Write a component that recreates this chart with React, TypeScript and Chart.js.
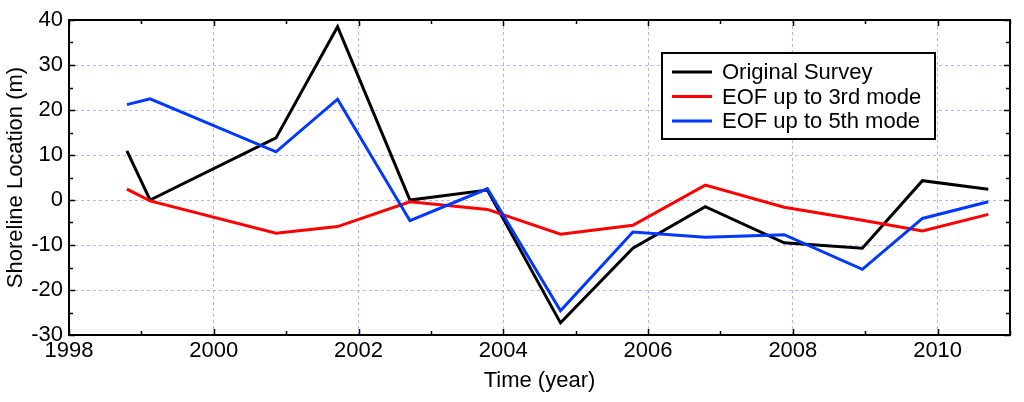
import React, { useEffect, useRef } from "react";
import { Chart, registerables } from "chart.js";

Chart.register(...registerables);

const years = [1998.8, 1999.12, 2000.86, 2001.71, 2002.71, 2003.78, 2004.79, 2005.79, 2006.79, 2007.88, 2008.96, 2009.79, 2010.7];
const originalSurvey = [10.9, 0, 13.8, 38.5, 0, 2.2, -27.3, -10.7, -1.5, -9.5, -10.7, 4.3, 2.4];
const eofMode3 = [2.4, -0.2, -7.4, -5.9, -0.4, -2.1, -7.6, -5.6, 3.3, -1.6, -4.5, -6.9, -3.2];
const eofMode5 = [21.2, 22.5, 10.7, 22.4, -4.6, 2.5, -24.6, -7.1, -8.3, -7.7, -15.4, -4.1, -0.4];
const seriesLabels = ["Original Survey", "EOF up to 3rd mode", "EOF up to 5th mode"];
const seriesColors = ["#000000", "#ff0000", "#0038ff"];
const xTitle = "Time (year)";
const yTitle = "Shoreline Location (m)";

const FONT = "'Liberation Sans', Arial, sans-serif";
const GRID = "rgba(170,170,255,0.9)";

const framePlugin = {
  id: "frame",
  afterDraw(chart: any) {
    const { ctx, chartArea, scales } = chart;
    const { left, right, top, bottom } = chartArea;
    const xs = scales.x;
    const ys = scales.y;
    ctx.save();
    ctx.strokeStyle = "#000";
    ctx.lineWidth = 1.5;
    for (let v = 1998; v <= 2011; v++) {
      const px = Math.round(xs.getPixelForValue(v)) + 0.5;
      const len = v % 2 === 0 ? 6 : 4;
      ctx.beginPath();
      ctx.moveTo(px, bottom);
      ctx.lineTo(px, bottom - len);
      ctx.moveTo(px, top);
      ctx.lineTo(px, top + len);
      ctx.stroke();
    }
    for (let v = -30; v <= 40; v += 5) {
      const py = Math.round(ys.getPixelForValue(v)) + 0.5;
      const len = v % 10 === 0 ? 6 : 4;
      ctx.beginPath();
      ctx.moveTo(left, py);
      ctx.lineTo(left + len, py);
      ctx.moveTo(right, py);
      ctx.lineTo(right - len, py);
      ctx.stroke();
    }
    ctx.lineWidth = 2;
    ctx.strokeRect(left, top, right - left, bottom - top);

    // legend
    const bx = 662, by = 53, bw = 273, bh = 86;
    ctx.fillStyle = "#fff";
    ctx.fillRect(bx, by, bw, bh);
    ctx.lineWidth = 2;
    ctx.strokeStyle = "#000";
    ctx.strokeRect(bx, by, bw, bh);
    const rows = [72, 96.5, 121];
    ctx.font = `22px ${FONT}`;
    ctx.textBaseline = "middle";
    ctx.textAlign = "left";
    chart.data.datasets.forEach((ds: any, i: number) => {
      ctx.strokeStyle = ds.borderColor;
      ctx.lineWidth = 3;
      ctx.beginPath();
      ctx.moveTo(672, rows[i]);
      ctx.lineTo(712, rows[i]);
      ctx.stroke();
      ctx.fillStyle = "#000";
      ctx.fillText(ds.label, 722, rows[i] + 1);
    });
    ctx.restore();
  },
};

export default function App() {
  const ref = useRef<HTMLCanvasElement | null>(null);
  useEffect(() => {
    if (!ref.current) return;
    const mk = (vals: number[]) => years.map((x, i) => ({ x, y: vals[i] }));
    const chart = new Chart(ref.current, {
      type: "line",
      data: {
        datasets: [
          { label: seriesLabels[0], data: mk(originalSurvey), borderColor: seriesColors[0], order: 2 },
          { label: seriesLabels[1], data: mk(eofMode3), borderColor: seriesColors[1], order: 1 },
          { label: seriesLabels[2], data: mk(eofMode5), borderColor: seriesColors[2], order: 0 },
        ].map((d) => ({ ...d, borderWidth: 3, pointRadius: 0, tension: 0, fill: false, backgroundColor: d.borderColor })),
      },
      options: {
        animation: false,
        responsive: false,
        maintainAspectRatio: false,
        layout: { padding: { top: 20, right: 14, left: 0, bottom: 0 } },
        plugins: { legend: { display: false }, tooltip: { enabled: false } },
        scales: {
          x: {
            type: "linear",
            min: 1998,
            max: 2011,
            afterFit: (s: any) => { s.height = 67; },
            ticks: {
              stepSize: 1,
              autoSkip: false,
              maxRotation: 0,
              padding: 3,
              color: "#000",
              font: { family: FONT, size: 22 },
              callback: (v: any) => (Number(v) % 2 === 0 ? String(v) : ""),
            },
            grid: {
              drawTicks: false,
              lineWidth: 1,
              color: (c: any) => {
                const v = c.tick ? c.tick.value : 0;
                return v % 2 === 0 && v !== 1998 ? GRID : "rgba(0,0,0,0)";
              },
            },
            border: { display: false, dash: [3, 3] },
            title: { display: true, text: xTitle, color: "#000", font: { family: FONT, size: 22 }, padding: { top: 0, bottom: 8 } },
          },
          y: {
            type: "linear",
            min: -30,
            max: 40,
            afterFit: (s: any) => { s.width = 69; },
            ticks: {
              stepSize: 5,
              autoSkip: false,
              padding: 6,
              color: "#000",
              font: { family: FONT, size: 22 },
              callback: (v: any) => (Number(v) % 10 === 0 ? String(v) : ""),
            },
            grid: {
              drawTicks: false,
              lineWidth: 1,
              color: (c: any) => {
                const v = c.tick ? c.tick.value : 0;
                return v % 10 === 0 && v !== -30 && v !== 40 ? GRID : "rgba(0,0,0,0)";
              },
            },
            border: { display: false, dash: [3, 3] },
            title: { display: true, text: yTitle, color: "#000", font: { family: FONT, size: 22 }, padding: { top: 3, bottom: 0 } },
          },
        },
      },
      plugins: [framePlugin],
    } as any);
    return () => chart.destroy();
  }, []);
  return (
    <div style={{ position: "fixed", left: 0, top: 0, width: 1024, height: 402, background: "#fff" }}>
      <canvas ref={ref} width={1024} height={402} style={{ width: 1024, height: 402, display: "block" }} />
    </div>
  );
}
